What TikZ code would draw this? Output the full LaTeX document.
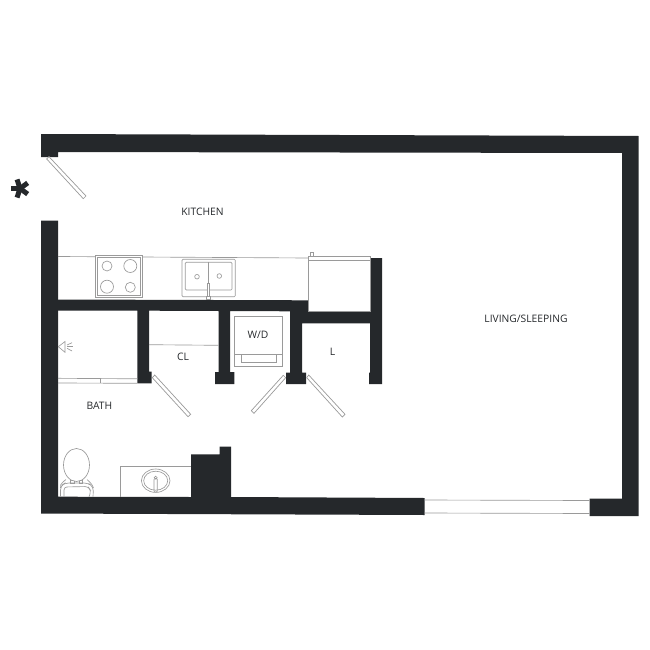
\documentclass[tikz,border=0pt]{standalone}
\usepackage{fontspec}
\setmainfont{Open Sans}
\definecolor{wallcol}{HTML}{25282B}
\definecolor{linecol}{HTML}{9A9A9A}
\tikzset{
	wall/.style={fill=wallcol, draw=none},
	fixture/.style={draw=linecol, line width=0.65pt},
	door/.style={draw=linecol, fill=white, line width=0.7pt},
	room/.style={text=wallcol, inner sep=0pt, font=\fontsize{10.3}{12}\selectfont},
}
\begin{document}
\begin{tikzpicture}[x=1pt, y=-1pt]
	\useasboundingbox (0,0) rectangle (650,650);

	% walls
	\fill[wall] (41,134) -- (638.5,136) -- (638.5,516) -- (589.5,516) -- (589.5,498.5) -- (622,498.5) -- (622,153) -- (58,152) -- (58,157) -- (41,157) -- cycle;
	\fill[wall] (41,220.5) -- (58,220.5) -- (58,496.7) -- (191,497) -- (191,454.3) -- (219.7,454.3) -- (219.7,446.7) -- (231,446.7) -- (231,497) -- (424.5,498) -- (424.5,515) -- (41,513.5) -- cycle;
	\fill[wall] (58,299.5) -- (308,300.3) -- (308,312) -- (370,312) -- (370,258) -- (382,258) -- (382,384) -- (369,384) -- (369,372.7) -- (370,372.7) -- (370,323.3) -- (302,323.3) -- (302,372.5) -- (306,372.5) -- (306,384) -- (286,384) -- (286,372.5) -- (290,372.5) -- (290,311.3) -- (230,311) -- (230,372) -- (234.3,372) -- (234.3,384) -- (215,384) -- (215,372) -- (218.7,372) -- (218.7,311) -- (149,310.7) -- (149,371.7) -- (151.7,371.7) -- (151.7,383.3) -- (137.3,383.3) -- (137.3,310.7) -- (58,310.7) -- cycle;

	% entry mark
	\foreach \ang in {180,108,36,-36,-108}
		\draw[wallcol, line width=5pt] (20,188.5) -- ++(-\ang:9.5);

	% doors
	\draw[door] (46.7,159) -- (49,156.7) -- (86,196) -- (83.3,198.7) -- cycle;
	\draw[door] (152.3,377.7) -- (154.7,375) -- (190.7,414.3) -- (188,416.7) -- cycle;
	\draw[door] (283.3,375.3) -- (285.7,377.7) -- (254,413.3) -- (251.3,410.7) -- cycle;
	\draw[door] (306.7,377.7) -- (308.7,375) -- (345,414.3) -- (342.3,417) -- cycle;

	% window
	\draw[fixture] (424.5,500) -- (589.5,500.5);
	\draw[fixture] (424.5,513) -- (589.5,513.5);

	% counter
	\draw[fixture] (58,256.5) -- (308.3,258);

	% stove
	\draw[fixture, fill=white] (95,255) rectangle (142.7,297.5);
	\draw[fixture] (97,257) rectangle (140.7,295.5);
	\draw[fixture] (107,266) circle (5);
	\draw[fixture] (130.3,266) circle (6.5);
	\draw[fixture] (107,286.7) circle (6.5);
	\draw[fixture] (130.3,287.3) circle (5);

	% kitchen sink
	\draw[fixture, fill=white, rounded corners=1pt] (182,259.3) rectangle (235.3,296.7);
	\draw[fixture, rounded corners=1pt] (185.3,262.3) rectangle (232,290);
	\draw[fixture] (208.7,262.3) -- (208.7,283.3);
	\draw[fixture] (197,276.7) circle (2.3);
	\draw[fixture] (219.3,276) circle (2.3);
	\draw[fixture, fill=white] (207.3,283.3) rectangle (209.6,296);
	\draw[fixture, fill=white] (206.5,296) rectangle (210.3,299.5);

	% fridge
	\draw[fixture, fill=white] (308.3,256) rectangle (370,260.7);
	\draw[fixture] (308.3,260.7) rectangle (370,311.7);
	\draw[fixture] (310.5,256) rectangle (313,252.7);

	% washer and closet
	\draw[fixture] (234.3,316.7) rectangle (282.7,366);
	\draw[fixture] (234.3,354.3) -- (282.7,354.3);
	\draw[fixture] (241.3,354.3) rectangle (276,362.7);
	\draw[fixture] (149,344.7) -- (218.7,345.3);

	% shower
	\draw[fixture] (58,378.3) -- (137.3,378.8);
	\draw[fixture] (58,383) -- (137.3,383.3);
	\draw[fixture] (100.7,378.5) -- (100.7,383);
	\draw[fixture] (58.3,346.7) -- (65,341.5) -- (65,352.3) -- cycle;
	\draw[fixture] (67,345) -- (72,342.7);
	\draw[fixture] (67,346.7) -- (72.7,346.7);
	\draw[fixture] (67,348.3) -- (72,351);

	% toilet
	\draw[fixture, rounded corners=4pt] (60.5,496.7) -- (60.5,486) -- (65,483) -- (88,483) -- (93.5,487) -- (93,496.7);
	\draw[fixture, rounded corners=3pt] (64,496.7) -- (64,487) -- (88,486.5) -- (91,491) -- (89,496.7);
	\draw[fixture] (66,479.5) .. controls (60,484) and (60,486) .. (60.5,488);
	\draw[fixture] (87,479.5) .. controls (92,484) and (93,486) .. (93.5,488);
	\draw[fixture] (70.5,480) rectangle (74,483);
	\draw[fixture] (79,480) rectangle (82.5,483);
	\draw[fixture, fill=white] (76.5,465) ellipse (13 and 16.5);

	% bath sink
	\draw[fixture] (191,466.7) -- (120.3,466.7) -- (120.3,497);
	\draw[fixture] (155.7,480.7) ellipse (14.3 and 11.7);
	\draw[fixture] (155.7,480.7) ellipse (12 and 9.5);
	\draw[fixture, rounded corners=1pt] (154,478.5) rectangle (157.3,492);
	\draw[fixture] (155.7,477.7) circle (1.5);

	% labels
	\node[room] (kitchen) at (202.5,212) {KITCHEN};
	\node[room] (living) at (526,318.5) {LIVING/SLEEPING};
	\node[room] (bath) at (99.5,406) {BATH};
	\node[room] (closet) at (183,357) {CL};
	\node[room] (laundry) at (258,335) {W/D};
	\node[room] (linen) at (332.5,352) {L};
\end{tikzpicture}
\end{document}
